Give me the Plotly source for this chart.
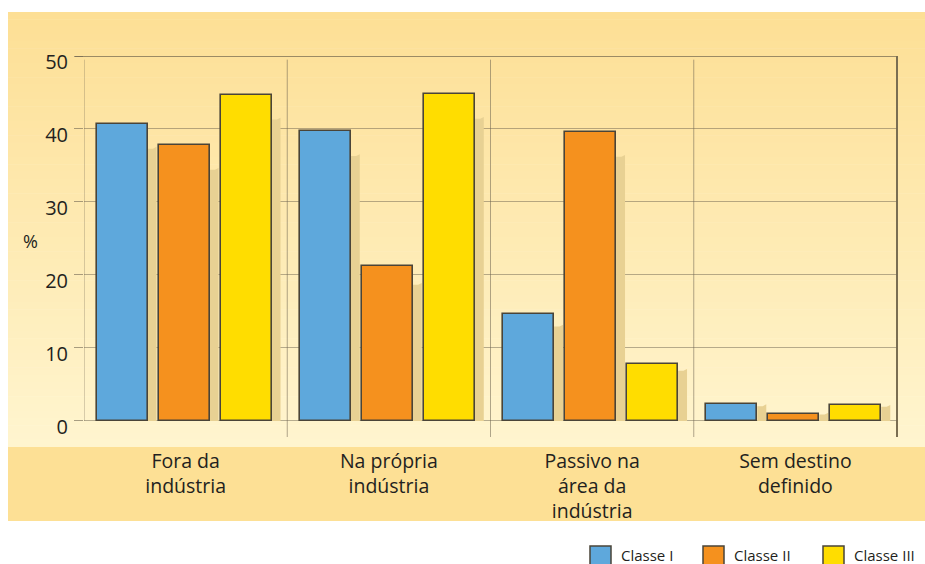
import plotly.graph_objects as go

# ---- data ----
categories = ["Fora da<br>indústria", "Na própria<br>indústria", "Passivo na<br>área da<br>indústria", "Sem destino<br>definido"]
series_names = ["Classe I", "Classe II", "Classe III"]
classe_1 = [40.7, 39.7, 14.7, 2.3]
classe_2 = [37.8, 21.2, 39.6, 1.0]
classe_3 = [44.7, 44.8, 7.8, 2.2]
y_ticks = [0, 10, 20, 30, 40, 50]

series_values = [classe_1, classe_2, classe_3]
colors = ["#5EA8DC", "#F5911E", "#FFDD00"]

W, H = 925, 564
x_left_px, x_right_px = 84, 897
y_top_px, y_bot_px = 56, 437
xr = [-0.5, 3.5]
yr = [-2.2, 50]
px_per_x = (x_right_px - x_left_px) / (xr[1] - xr[0])

bar_w = 51 / px_per_x
offsets = [(12.5 - 101.6) / px_per_x, (74.5 - 101.6) / px_per_x, (136.5 - 101.6) / px_per_x]
xs = list(range(len(categories)))

fig = go.Figure()
shapes = []

# background gradient panel
def lerp(c1, c2, t):
    return "#%02x%02x%02x" % tuple(int(round(a + (b - a) * t)) for a, b in zip(c1, c2))

top_c = (0xFD, 0xDF, 0x95)
bot_c = (0xFF, 0xF5, 0xCF)
p_top = 1 - 12 / H
p_mid = 1 - 447 / H
n = 60
for i in range(n):
    y1 = p_top - (p_top - p_mid) * i / n
    y0 = p_top - (p_top - p_mid) * (i + 1) / n
    shapes.append(dict(type="rect", xref="paper", yref="paper", x0=8 / W, x1=1.01,
                       y0=y0 - 0.001, y1=y1, fillcolor=lerp(top_c, bot_c, (i + 0.5) / n),
                       line_width=0, layer="below"))
shapes.append(dict(type="rect", xref="paper", yref="paper", x0=8 / W, x1=1.01,
                   y0=1 - 521 / H, y1=p_mid, fillcolor="#FDE095", line_width=0, layer="below"))

# vertical separators
for k in range(len(categories)):
    xv = xr[0] + k
    shapes.append(dict(type="line", xref="x", yref="y", x0=xv, x1=xv,
                       y0=49.5, y1=(0 if k == 0 else yr[0]),
                       line=dict(color="rgba(110,100,80,0.55)", width=1), layer="between"))
# top line and right frame
shapes.append(dict(type="line", xref="paper", yref="y", x0=75 / W, x1=x_right_px / W, y0=50, y1=50,
                   line=dict(color="#7A6E52", width=1.5), layer="between"))
shapes.append(dict(type="line", xref="paper", yref="y", x0=x_right_px / W, x1=x_right_px / W,
                   y0=50, y1=yr[0], line=dict(color="#7A6E52", width=2), layer="between"))

# shadows
sh_w = 9 / px_per_x
for vals, off in zip(series_values, offsets):
    for x, v in zip(xs, vals):
        xr_edge = x + off + bar_w
        h = v - min(3.4, v * 0.12)
        shapes.append(dict(type="path", xref="x", yref="y",
                           path=f"M {xr_edge},0 L {xr_edge},{h} L {xr_edge + sh_w*0.6},{h} "
                                f"L {xr_edge + sh_w},{h + 0.25} L {xr_edge + sh_w},0 Z",
                           fillcolor="#E8D193", line_width=0, layer="between"))

for name, vals, off, col in zip(series_names, series_values, offsets, colors):
    fig.add_trace(go.Bar(x=xs, y=vals, name=name, width=bar_w, offset=off,
                         marker=dict(color=col, line=dict(color="#4A4438", width=1.6)),
                         showlegend=False))

# legend (custom)
leg_box_x = [590, 703, 823]
annotations = []
for name, col, bx in zip(series_names, colors, leg_box_x):
    shapes.append(dict(type="rect", xref="paper", yref="paper", x0=bx / W, x1=(bx + 21) / W,
                       y0=-0.01, y1=1 - 546 / H, fillcolor=col,
                       line=dict(color="#4A4438", width=1.5), layer="above"))
    annotations.append(dict(xref="paper", yref="paper", x=(bx + 29) / W, y=1 - 555 / H,
                            text=name, showarrow=False, xanchor="left", yanchor="middle",
                            font=dict(size=15, color="#231F20")))
annotations.append(dict(xref="paper", yref="paper", x=31 / W, y=1 - 241 / H, text="%",
                        showarrow=False, xanchor="center", yanchor="middle",
                        font=dict(size=18, color="#231F20")))

fig.update_layout(
    width=W, height=H,
    margin=dict(l=0, r=0, t=0, b=0, autoexpand=False),
    paper_bgcolor="white", plot_bgcolor="rgba(0,0,0,0)",
    font=dict(family="Open Sans, Noto Sans, sans-serif", color="#231F20"),
    shapes=shapes, annotations=annotations,
    bargap=0, showlegend=False,
    xaxis=dict(domain=[x_left_px / W, x_right_px / W], range=xr, tickvals=xs, ticktext=categories,
               showgrid=False, zeroline=False, showline=False, ticks="", automargin=False,
               tickfont=dict(size=19.5, color="#231F20"), ticklabelstandoff=10, fixedrange=True),
    yaxis=dict(domain=[1 - y_bot_px / H, 1 - y_top_px / H], range=yr, tickvals=y_ticks,
               showgrid=True, gridcolor="rgba(110,100,80,0.5)", gridwidth=1, automargin=False,
               zeroline=False, showline=False, ticks="outside", ticklen=9,
               tickcolor="rgba(110,100,80,0.6)", tickfont=dict(size=20, color="#231F20"),
               ticklabelshift=6, ticklabelstandoff=2, fixedrange=True),
)

fig.write_html("out.html")
